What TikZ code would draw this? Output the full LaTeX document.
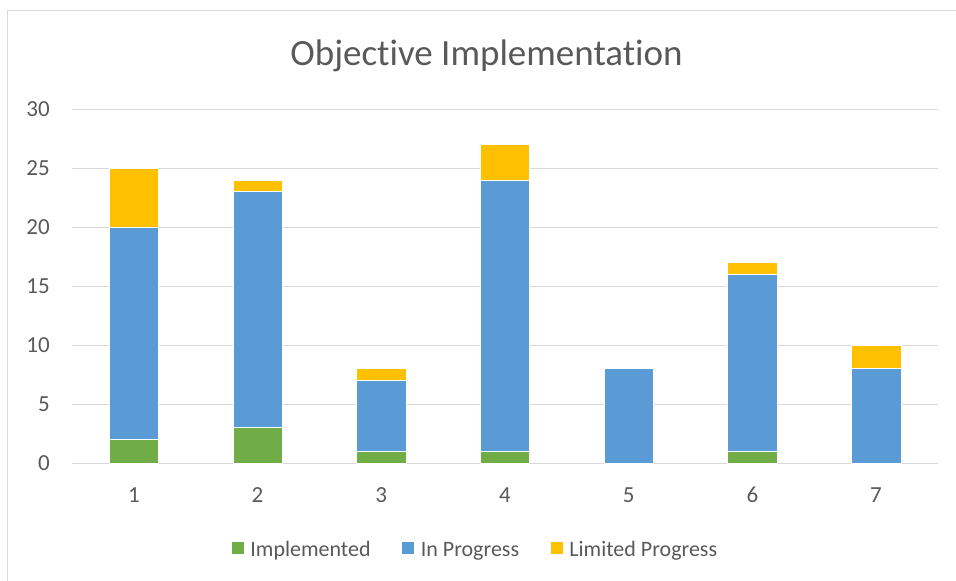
\documentclass[tikz,border=0pt]{standalone}
\usepackage{fontspec}
\setmainfont{Carlito}[Ligatures = NoCommon]
\usepackage{tikz}
\usetikzlibrary{positioning}

\definecolor{implgreen}{HTML}{70AD47}
\definecolor{progblue}{HTML}{5B9BD5}
\definecolor{limyellow}{HTML}{FFC000}
\definecolor{labelgray}{HTML}{595959}
\definecolor{gridgray}{HTML}{D9D9D9}

\begin{document}
\begin{tikzpicture}[ x = 1pt
                   , y = -1pt
                   , font = \fontsize{22}{26}\selectfont
                   , every node/.style = { text = labelgray
                                         , inner sep = 0pt }
                   , gridline/.style = { draw = gridgray, line width = 1pt }
                   , frame/.style = { draw = gridgray, line width = 1pt }
                   , ticklabel/.style = { font = \fontsize{23}{27}\selectfont }
                   , impl/.style = { fill = implgreen, draw = white, line width = 0.4pt }
                   , prog/.style = { fill = progblue, draw = white, line width = 0.4pt }
                   , lim/.style = { fill = limyellow, draw = white, line width = 0.4pt }
                   , keybox/.style = { minimum size = 12pt }
                   , keytext/.style = { text height = 16pt, text depth = 0pt }
                   ]

  \useasboundingbox (0,0) rectangle (956,581);

  %%
  %% Frame and title
  %%
  \draw[frame] (7.5,581) |- (956,10.5);
  \node (title) [anchor = base, font = \fontsize{37}{44}\selectfont]
        at (486.5,65.5) {Objective Implementation};

  %%
  %% Plot area: one unit across per objective, one unit up per count
  %%
  \begin{scope}[shift = {(10.15,463)}, x = 123.7pt, y = 11.8pt]
    % Grid lines
    \draw[gridline] (0.5,30) -- (7.5,30);
    \draw[gridline] (0.5,25) -- (7.5,25);
    \draw[gridline] (0.5,20) -- (7.5,20);
    \draw[gridline] (0.5,15) -- (7.5,15);
    \draw[gridline] (0.5,10) -- (7.5,10);
    \draw[gridline] (0.5,5) -- (7.5,5);
    \draw[gridline] (0.5,0) -- (7.5,0);

    % Value axis labels
    \node (ytick30) [ticklabel, anchor = east, xshift = -22pt] at (0.5,30) {30};
    \node (ytick25) [ticklabel, anchor = east, xshift = -22pt] at (0.5,25) {25};
    \node (ytick20) [ticklabel, anchor = east, xshift = -22pt] at (0.5,20) {20};
    \node (ytick15) [ticklabel, anchor = east, xshift = -22pt] at (0.5,15) {15};
    \node (ytick10) [ticklabel, anchor = east, xshift = -22pt] at (0.5,10) {10};
    \node (ytick5)  [ticklabel, anchor = east, xshift = -22pt] at (0.5,5) {5};
    \node (ytick0)  [ticklabel, anchor = east, xshift = -22pt] at (0.5,0) {0};

    % Stacked bars
    \path[impl] (0.8,0) rectangle (1.2,2);
    \path[prog] (0.8,2) rectangle (1.2,20);
    \path[lim]  (0.8,20) rectangle (1.2,25);

    \path[impl] (1.8,0) rectangle (2.2,3);
    \path[prog] (1.8,3) rectangle (2.2,23);
    \path[lim]  (1.8,23) rectangle (2.2,24);

    \path[impl] (2.8,0) rectangle (3.2,1);
    \path[prog] (2.8,1) rectangle (3.2,7);
    \path[lim]  (2.8,7) rectangle (3.2,8);

    \path[impl] (3.8,0) rectangle (4.2,1);
    \path[prog] (3.8,1) rectangle (4.2,24);
    \path[lim]  (3.8,24) rectangle (4.2,27);

    \path[prog] (4.8,0) rectangle (5.2,8);

    \path[impl] (5.8,0) rectangle (6.2,1);
    \path[prog] (5.8,1) rectangle (6.2,16);
    \path[lim]  (5.8,16) rectangle (6.2,17);

    \path[prog] (6.8,0) rectangle (7.2,8);
    \path[lim]  (6.8,8) rectangle (7.2,10);

    % Category axis labels
    \node (xtick1) [ticklabel, yshift = -32pt] at (1,0) {1};
    \node (xtick2) [ticklabel, yshift = -32pt] at (2,0) {2};
    \node (xtick3) [ticklabel, yshift = -32pt] at (3,0) {3};
    \node (xtick4) [ticklabel, yshift = -32pt] at (4,0) {4};
    \node (xtick5) [ticklabel, yshift = -32pt] at (5,0) {5};
    \node (xtick6) [ticklabel, yshift = -32pt] at (6,0) {6};
    \node (xtick7) [ticklabel, yshift = -32pt] at (7,0) {7};
  \end{scope}

  %%
  %% Legend
  %%
  \node (implkey)  [keybox, fill = implgreen] at (237.5,548) {};
  \node (impltext) [keytext, right = 6.5pt of implkey] {Implemented};
  \node (progkey)  [keybox, fill = progblue, right = 31pt of impltext] {};
  \node (progtext) [keytext, right = 6.5pt of progkey] {In Progress};
  \node (limkey)   [keybox, fill = limyellow, right = 31pt of progtext] {};
  \node (limtext)  [keytext, right = 6.5pt of limkey] {Limited Progress};
\end{tikzpicture}
\end{document}
